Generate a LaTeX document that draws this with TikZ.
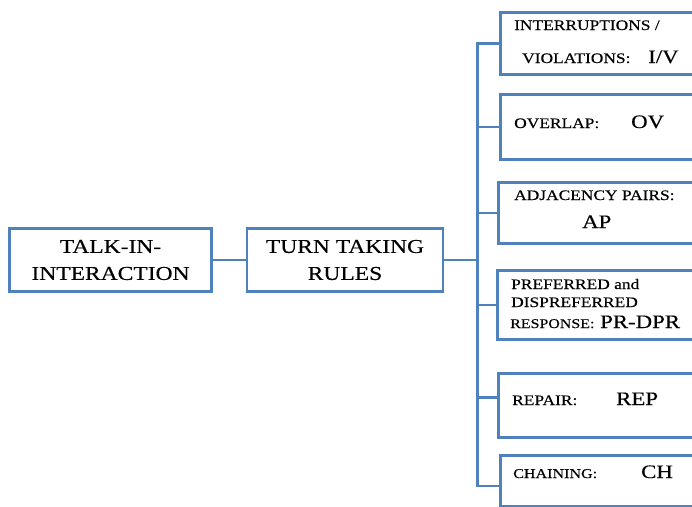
\documentclass[tikz,border=0pt]{standalone}
\usepackage{fontspec}
\setmainfont{Liberation Serif}
\newfontfamily\widefont{Liberation Serif}[FakeStretch=1.2,FakeBold=0.3]
\definecolor{boxblue}{HTML}{4F81BD}
\begin{document}
\begin{tikzpicture}[x=1pt,y=-1pt,
    box/.style={draw=boxblue,line width=2.5pt,rectangle,inner sep=0pt},
    head/.style={box,minimum height=63pt,align=center,font=\widefont\fontsize{19.6}{27}\selectfont},
    leaf/.style={box,anchor=north west,minimum width=230pt},
    tag/.style={anchor=base west,inner sep=0pt,font=\widefont\fontsize{14.5}{18}\selectfont},
    abbr/.style={anchor=base west,inner sep=0pt,font=\widefont\fontsize{19}{22}\selectfont},
    link/.style={draw=boxblue,line width=2.5pt}]
    \clip (0,0) rectangle (692,506);
    % Main boxes
    \node[head,minimum width=202pt] (talk) at (110.5,260) {TALK-IN-\\INTERACTION};
    \node[head,minimum width=196pt] (turn) at (345,260) {TURN TAKING\\RULES};
    \coordinate (fork) at ([xshift=33pt]turn.east);
    % Rule boxes
    \node[leaf,minimum height=62pt] (iv) at (499,11) {};
    \node[leaf,minimum height=65pt] (ov) at (499,93) {};
    \node[leaf,minimum height=61pt] (ap) at (497,181) {};
    \node[leaf,minimum height=69pt] (pr) at (496,269) {};
    \node[leaf,minimum height=64pt] (rep) at (497,372) {};
    \node[leaf,minimum height=51pt] (ch) at (499,454) {};
    \coordinate (repin) at ([yshift=8pt]rep.west);
    \coordinate (chin) at ([yshift=-5pt]ch.west);
    % Connectors
    \draw[link] (talk) -- (turn);
    \draw[link] (turn.east) -- (fork);
    \draw[link] (iv.west) -- (fork |- iv.west) -- (fork |- chin) -- (chin);
    \foreach \n in {ov,ap,pr}
        \draw[link] (fork |- \n.west) -- (\n.west);
    \draw[link] (fork |- repin) -- (repin);
    % Labels
    \node[tag] (ivt) at ([shift={(15,19)}]iv.north west) {INTERRUPTIONS /};
    \node[tag] (ivu) at ([shift={(23,52)}]iv.north west) {VIOLATIONS:};
    \node[abbr] (iva) at ([shift={(149,52)}]iv.north west) {I/V};
    \node[tag] (ovt) at ([shift={(15,35)}]ov.north west) {OVERLAP:};
    \node[abbr] (ova) at ([shift={(132,35)}]ov.north west) {OV};
    \node[tag] (apt) at ([shift={(17,19)}]ap.north west) {ADJACENCY PAIRS:};
    \node[abbr] (apa) at ([shift={(85,47)}]ap.north west) {AP};
    \node[tag] (prt) at ([shift={(15,20)}]pr.north west) {PREFERRED and};
    \node[tag] (pru) at ([shift={(15,38)}]pr.north west) {DISPREFERRED};
    \node[tag,font=\widefont\fontsize{13.3}{16}\selectfont] (prv) at ([shift={(14,59)}]pr.north west) {RESPONSE:};
    \node[abbr] (pra) at ([shift={(104,59)}]pr.north west) {PR-DPR};
    \node[tag] (rept) at ([shift={(15,33)}]rep.north west) {REPAIR:};
    \node[abbr] (repa) at ([shift={(119,33)}]rep.north west) {REP};
    \node[tag,font=\widefont\fontsize{13.4}{16}\selectfont] (cht) at ([shift={(14,24)}]ch.north west) {CHAINING:};
    \node[abbr] (cha) at ([shift={(142,24)}]ch.north west) {CH};
\end{tikzpicture}
\end{document}
